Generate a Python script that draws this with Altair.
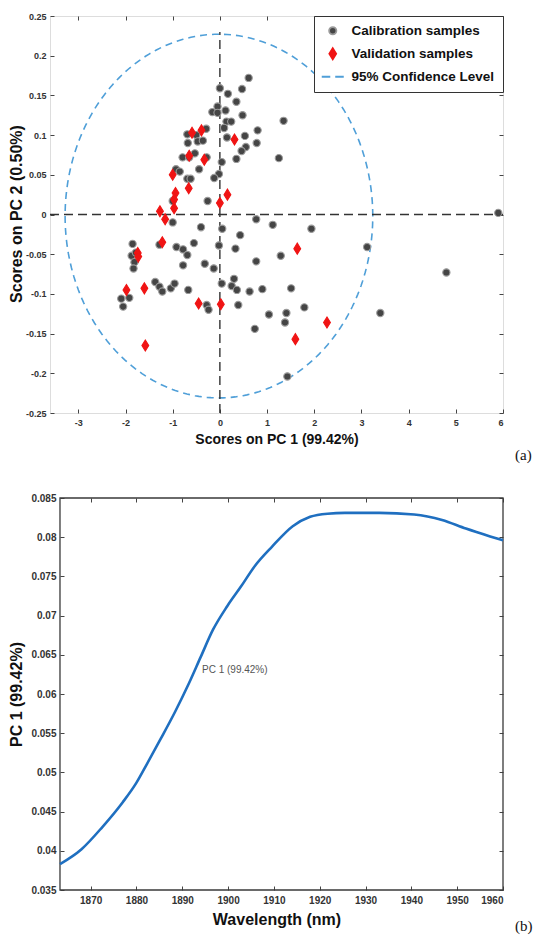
import altair as alt
import numpy as np
import pandas as pd

# ---------------- Panel (a): PCA scores ----------------
cal_x = [-0.69, -0.50, -0.29, -0.47, -0.36, -0.68, -0.79, -0.53, -0.65, -0.28, -0.44, -0.93, -0.85, -0.69, -0.62, -1.00, -0.26,
         0.61, 0.00, 0.17, 0.47, 0.35, -0.05, -0.16, -0.05, 0.12, 0.48, 0.14, 0.24, 1.35, 0.09, 0.80, 0.15, 0.53, 0.78, 0.55, 0.46, 0.35, 1.25, 0.04, -0.02, -0.12,
         -1.00, -0.40, 0.05, 0.77, 1.12, 1.94, 0.43, -0.02, 0.33, 3.12, 1.29, 0.77, -0.32, -0.13, 4.80, 0.04, 0.30, 0.25, 0.36, 0.63, 0.90, 1.51, -0.28, -0.24, 0.39, 1.04, 1.41, 1.38, 1.79, 3.40, 0.74, 5.90, 1.43,
         -1.85, -1.87, -1.78, -1.81, -1.83, -1.28, -0.92, -0.78, -0.69, -0.55, -2.09, -1.92, -2.05, -1.37, -1.28, -1.22, -1.04, -0.96, -0.67, -0.78]
cal_y = [0.101, 0.100, 0.108, 0.092, 0.093, 0.090, 0.072, 0.077, 0.072, 0.072, 0.057, 0.057, 0.054, 0.045, 0.045, 0.017, 0.017,
         0.172, 0.159, 0.152, 0.158, 0.142, 0.136, 0.129, 0.128, 0.131, 0.125, 0.117, 0.117, 0.118, 0.109, 0.106, 0.097, 0.099, 0.090, 0.085, 0.080, 0.070, 0.071, 0.066, 0.051, 0.046,
         -0.010, -0.016, -0.018, -0.006, -0.013, -0.018, -0.026, -0.039, -0.043, -0.041, -0.052, -0.059, -0.062, -0.068, -0.073, -0.087, -0.081, -0.090, -0.095, -0.097, -0.094, -0.093, -0.114, -0.120, -0.114, -0.126, -0.124, -0.136, -0.117, -0.124, -0.144, 0.002, -0.204,
         -0.037, -0.052, -0.048, -0.060, -0.068, -0.038, -0.041, -0.044, -0.051, -0.036, -0.106, -0.105, -0.116, -0.085, -0.091, -0.097, -0.093, -0.087, -0.095, -0.064]
val_x = [-0.59, -0.39, -0.65, -0.33, -1.00, -0.66, -0.94, -0.97, -0.97, 0.00, 0.16, -1.27, -1.16, 0.31,
         -1.22, -1.74, -1.73, -1.98, -1.60, -0.45, 0.02, -1.58, 1.64, 2.27, 1.60]
val_y = [0.103, 0.106, 0.074, 0.069, 0.050, 0.033, 0.027, 0.019, 0.008, 0.0145, 0.025, 0.004, -0.006, 0.0945,
         -0.035, -0.0485, -0.053, -0.095, -0.093, -0.112, -0.113, -0.165, -0.043, -0.136, -0.157]
series_names = ["Calibration samples", "Validation samples", "95% Confidence Level"]

# 95% confidence ellipse (semi-axes and centre)
ell_a, ell_b = 3.26, 0.229
ell_cx, ell_cy = -0.02, -0.002

x_ticks_a = [-3, -2, -1, 0, 1, 2, 3, 4, 5, 6]
y_ticks_a = [0.25, 0.2, 0.15, 0.1, 0.05, 0, -0.05, -0.1, -0.15, -0.2, -0.25]
y_title_a = "Scores on PC 2 (0.50%)"

# ---------------- Panel (b): PC1 loading ----------------
wavelength = [1863.3, 1868, 1872.5, 1877, 1880, 1882.3, 1885.3, 1888.4, 1891.4, 1894, 1896.7, 1899.8, 1902.8,
              1905.8, 1909.6, 1914.1, 1917.9, 1921.7, 1925.5, 1933, 1940.6, 1946.7, 1951.9, 1957.2, 1960]
pc1_loading = [0.0383, 0.0402, 0.0430, 0.0462, 0.0487, 0.0511, 0.0543, 0.0577, 0.0613, 0.0647, 0.0682, 0.0712, 0.0737,
               0.0763, 0.0788, 0.0814, 0.0826, 0.0830, 0.0831, 0.0831, 0.0829, 0.0822, 0.0811, 0.0801, 0.0796]
x_ticks_b = [1870, 1880, 1890, 1900, 1910, 1920, 1930, 1940, 1950, 1960]
y_ticks_b = [0.035, 0.04, 0.045, 0.05, 0.055, 0.06, 0.065, 0.07, 0.075, 0.08, 0.085]
frame_b = {"x": [1863.3], "x2": [1960], "y": [0.035], "y2": [0.085]}
x_lead_b = 2.18   # blank lead (in nm) left of panel (b)'s frame, so that its frame sits right of panel (a)'s

FONT = "Liberation Sans Narrow, Liberation Sans, Arial, sans-serif"
MINUS = "\u2212"


def lab(spec):
    return f"replace(format(datum.value, '{spec}'), '{MINUS}', '-')"


def main_axis(orient, values, spec, title, size, tsize, lpad, tpad, off=-4):
    kw = dict(orient=orient, values=values, labelExpr=lab(spec), offset=off, tickSize=4,
              domain=False, grid=False, tickColor="#444", tickWidth=1,
              labelFont=FONT, labelFontWeight="bold", labelFontSize=size, labelColor="#333",
              labelPadding=lpad, title=title)
    if title is not None:
        kw.update(titleFont=FONT, titleFontWeight="bold", titleFontSize=tsize, titleColor="#111", titlePadding=tpad)
    return alt.Axis(**kw)


def frame_axis(orient, values):
    return alt.Axis(orient=orient, values=values, labels=False, offset=-4, tickSize=4,
                    domain=False, grid=False, tickColor="#444", tickWidth=1, title=None)


# ---------- panel (a) ----------
xs_a = alt.Scale(domain=[-3.6, 6], nice=False, zero=False)
ys_a = alt.Scale(domain=[-0.25, 0.25], nice=False, zero=False)

df_pts = pd.DataFrame({
    "x": cal_x + val_x,
    "y": cal_y + val_y,
    "series": [series_names[0]] * len(cal_x) + [series_names[1]] * len(val_x),
})

circle_path = "M-0.66,0A0.66,0.66 0 1,0 0.66,0A0.66,0.66 0 1,0 -0.66,0Z"
diamond_path = "M0,-1L0.62,0L0,1L-0.62,0Z"
dash_path = "M-2,0L-0.45,0M0.45,0L2,0"

leg = alt.Legend(title=None, orient="top-right", offset=0, strokeColor="#333", fillColor="white",
                 padding=8, labelFont=FONT, labelFontSize=13.5, labelFontWeight="bold", labelColor="#111",
                 symbolSize=121, symbolOffset=4, labelOffset=12, rowPadding=6, symbolStrokeWidth=1.8,
                 cornerRadius=0)

points = alt.Chart(df_pts).mark_point(filled=True, size=121, opacity=1, strokeWidth=1.1).encode(
    x=alt.X("x:Q", scale=xs_a, axis=main_axis("bottom", x_ticks_a, "d", "Scores on PC 1 (99.42%)", 9, 14, 5, 5)),
    y=alt.Y("y:Q", scale=ys_a, axis=main_axis("left", y_ticks_a, ".2~f", None, 9, 16, 4, 3)),
    fill=alt.Fill("series:N", scale=alt.Scale(domain=series_names, range=["#454545", "#f01414", "transparent"]), legend=leg),
    stroke=alt.Stroke("series:N", scale=alt.Scale(domain=series_names, range=["#9a9a9a", "#f01414", "#4f9fd8"]), legend=leg),
    shape=alt.Shape("series:N", scale=alt.Scale(domain=series_names, range=[circle_path, diamond_path, dash_path]), legend=leg),
)

t = np.linspace(0, 2 * np.pi, 241)
df_ell = pd.DataFrame({"i": np.arange(len(t)), "x": ell_cx + ell_a * np.cos(t), "y": ell_cy + ell_b * np.sin(t)})
ellipse = alt.Chart(df_ell).mark_line(color="#4f9fd8", strokeDash=[7, 5], strokeWidth=1.6).encode(
    x=alt.X("x:Q", scale=xs_a, axis=None),
    y=alt.Y("y:Q", scale=ys_a, axis=None),
    order="i:Q",
)

df_rules = pd.DataFrame({"x": [-3.6, 0], "x2": [6, 0], "y": [0, -0.25], "y2": [0, 0.23]})
rules = alt.Chart(df_rules).mark_rule(color="#333", strokeDash=[9, 5], strokeWidth=1.4).encode(
    x=alt.X("x:Q", scale=xs_a, axis=frame_axis("top", x_ticks_a)),
    x2="x2:Q",
    y=alt.Y("y:Q", scale=ys_a, axis=frame_axis("right", y_ticks_a)),
    y2="y2:Q",
)

tag_a = alt.Chart(pd.DataFrame({"t": ["(a)"]})).mark_text(
    font="Liberation Serif, DejaVu Serif, serif", fontSize=15, align="left", baseline="middle", color="#111"
).encode(text="t:N", x=alt.value(465), y=alt.value(439))

ytitle_a = alt.Chart(pd.DataFrame({"t": [y_title_a]})).mark_text(
    font=FONT, fontSize=16, fontWeight="bold", align="center", baseline="middle", angle=270, color="#111"
).encode(text="t:N", x=alt.value(-33), y=alt.value(198))

panel_a = alt.layer(ellipse, rules, points, tag_a, ytitle_a).resolve_axis(x="independent", y="independent").properties(
    width=453, height=397)

# ---------- panel (b) ----------
xs_b = alt.Scale(domain=[frame_b["x"][0] - x_lead_b, frame_b["x2"][0]], nice=False, zero=False)
ys_b = alt.Scale(domain=[frame_b["y"][0], frame_b["y2"][0]], nice=False, zero=False)

df_curve = pd.DataFrame({"wl": wavelength, "pc": pc1_loading})
curve = alt.Chart(df_curve).mark_line(color="#1f6fc0", strokeWidth=2.6, interpolate="monotone").encode(
    x=alt.X("wl:Q", scale=xs_b, axis=main_axis("bottom", x_ticks_b, "d", "Wavelength (nm)", 10, 16, 5, 6)),
    y=alt.Y("pc:Q", scale=ys_b, axis=main_axis("left", y_ticks_b, ".3~f", "PC 1 (99.42%)", 10, 16, 4, 6, off=-14)),
)

frame = alt.Chart(pd.DataFrame(frame_b)).mark_rect(fillOpacity=0, stroke="#3a3a3a", strokeWidth=1.3).encode(
    x=alt.X("x:Q", scale=xs_b, axis=None), x2="x2:Q",
    y=alt.Y("y:Q", scale=ys_b, axis=None), y2="y2:Q",
)

df_note = pd.DataFrame({"wl": [1894.3], "pc": [0.0631], "t": ["PC 1 (99.42%)"]})
note = alt.Chart(df_note).mark_text(font="Liberation Sans, Arial, sans-serif", fontSize=10, align="left",
                                    baseline="middle", color="#555").encode(
    x=alt.X("wl:Q", scale=xs_b, axis=frame_axis("top", x_ticks_b)),
    y=alt.Y("pc:Q", scale=ys_b, axis=frame_axis("right", y_ticks_b)),
    text="t:N",
)

tag_b = alt.Chart(pd.DataFrame({"t": ["(b)"]})).mark_text(
    font="Liberation Serif, DejaVu Serif, serif", fontSize=15, align="left", baseline="middle", color="#111"
).encode(text="t:N", x=alt.value(465), y=alt.value(428))

panel_b = alt.layer(frame, curve, note, tag_b).resolve_axis(x="independent", y="independent").properties(
    width=453, height=392, view=alt.ViewBackground(stroke="transparent"))

indep = dict(fill="independent", stroke="independent", shape="independent", color="independent")
row_a = alt.hconcat(panel_a).resolve_scale(**indep)
row_b = alt.hconcat(panel_b).resolve_scale(**indep)

chart = alt.vconcat(row_a, row_b, spacing=28).resolve_scale(**indep).properties(
    padding={"left": 0, "top": 3, "right": 0, "bottom": 0}
).configure_view(stroke="#3a3a3a", strokeWidth=1.3).configure(background="white")

chart.save("out.html", embed_options={"renderer": "svg", "actions": False})
